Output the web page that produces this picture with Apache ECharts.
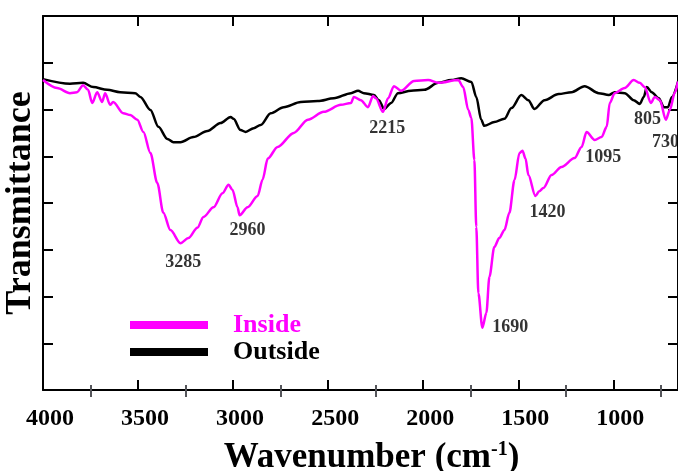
<!DOCTYPE html>
<html>
<head>
<meta charset="utf-8">
<script src="https://cdn.jsdelivr.net/npm/echarts@6/dist/echarts.min.js"></script>
<style>
  html, body { margin: 0; padding: 0; background: #fff; }
  #chart { width: 678px; height: 471px; }
</style>
</head>
<body>
<div id="chart"></div>
<script>
// FTIR spectra, [wavenumber, transmittance (arb.)]
const insidePts = [
  [4000, 6.63], [3926, 6.46], [3858, 6.35], [3821, 6.37], [3789, 6.52], [3763, 6.42],
  [3741, 6.14], [3715, 6.37], [3689, 6.16], [3673, 6.35], [3647, 6.10], [3631, 6.16],
  [3578, 5.92], [3541, 5.88], [3504, 5.78], [3472, 5.52], [3435, 5.07], [3399, 4.43],
  [3367, 3.79], [3330, 3.42], [3277, 3.14], [3235, 3.25], [3188, 3.47], [3156, 3.70],
  [3103, 3.91], [3056, 4.21], [3024, 4.39], [3003, 4.28], [2977, 3.91], [2966, 3.74],
  [2924, 3.91], [2871, 4.15], [2845, 4.50], [2818, 4.95], [2766, 5.20], [2681, 5.50],
  [2607, 5.78], [2523, 5.95], [2433, 6.10], [2380, 6.14], [2365, 6.27], [2328, 6.20],
  [2291, 6.05], [2264, 6.29], [2249, 6.24], [2212, 5.95], [2185, 6.24], [2154, 6.50],
  [2117, 6.40], [2048, 6.61], [1974, 6.63], [1921, 6.57], [1816, 6.63], [1790, 6.48],
  [1763, 5.99], [1747, 5.82], [1731, 4.92], [1721, 3.49], [1710, 2.07], [1689, 1.33],
  [1668, 1.65], [1652, 2.42], [1626, 3.06], [1600, 3.25], [1573, 3.42], [1547, 3.79],
  [1520, 4.49], [1494, 5.07], [1478, 5.12], [1462, 4.95], [1447, 4.60], [1410, 4.15],
  [1390, 4.25], [1368, 4.32], [1325, 4.60], [1273, 4.77], [1204, 4.96], [1167, 5.20],
  [1141, 5.52], [1098, 5.35], [1062, 5.41], [1035, 5.63], [1019, 6.14], [993, 6.35],
  [940, 6.46], [893, 6.63], [861, 6.57], [835, 6.48], [803, 6.14], [782, 6.27],
  [755, 6.20], [724, 5.78], [703, 5.99], [676, 6.37], [660, 6.60]
]
const outsidePts = [
  [4000, 6.65], [3858, 6.55], [3789, 6.57], [3736, 6.48], [3662, 6.42], [3594, 6.37],
  [3515, 6.35], [3488, 6.27], [3435, 5.99], [3393, 5.63], [3346, 5.37], [3314, 5.30],
  [3277, 5.30], [3209, 5.41], [3135, 5.54], [3066, 5.71], [3013, 5.84], [2998, 5.80],
  [2961, 5.56], [2934, 5.52], [2892, 5.60], [2855, 5.67], [2802, 5.92], [2734, 6.05],
  [2644, 6.16], [2555, 6.18], [2470, 6.24], [2380, 6.35], [2343, 6.40], [2312, 6.35],
  [2259, 6.31], [2233, 6.20], [2206, 6.01], [2169, 6.14], [2133, 6.35], [2064, 6.40],
  [1995, 6.42], [1921, 6.57], [1853, 6.63], [1800, 6.67], [1747, 6.59], [1721, 6.27],
  [1695, 5.78], [1679, 5.65], [1626, 5.73], [1573, 5.80], [1536, 6.03], [1484, 6.31],
  [1447, 6.20], [1415, 6.01], [1362, 6.20], [1288, 6.33], [1220, 6.37], [1151, 6.50],
  [1077, 6.35], [1024, 6.31], [993, 6.37], [940, 6.35], [893, 6.20], [861, 6.12],
  [840, 6.27], [824, 6.48], [798, 6.37], [761, 6.24], [734, 6.05], [713, 6.05],
  [692, 6.27], [660, 6.59]
]
// peak labels: text and where it sits (data units)
const peakLabels = ['3285', '2960', '2215', '1690', '1420', '1095', '805', '730']
const peakAnchors = [
  [3262, 2.72], [2925, 3.42], [2189, 5.60], [1542, 1.35],
  [1347, 3.81], [1053, 4.98], [821, 5.78], [726, 5.30]
]
const majorTicks = [1000, 1500, 2000, 2500, 3000, 3500, 4000]
const minorTicks = [750, 1250, 1750, 2250, 2750, 3250, 3750]

const serif = "'Liberation Serif', 'Times New Roman', serif"

function xAx(pos, opts) {
  return Object.assign({
    type: 'value',
    position: pos,
    min: 660,
    max: 4000,
    inverse: true,
    axisLine: { show: true, onZero: false, lineStyle: { color: '#000', width: 2 } },
    axisTick: { show: false },
    axisLabel: { show: false },
    splitLine: { show: false }
  }, opts)
}
function yAx(pos, opts) {
  return Object.assign({
    type: 'value',
    position: pos,
    min: 0,
    max: 8,
    interval: 1,
    axisLine: { show: true, lineStyle: { color: '#000', width: 2 } },
    axisTick: { show: true, inside: true, length: 10, lineStyle: { width: 2 } },
    axisLabel: { show: false },
    splitLine: { show: false }
  }, opts)
}

const chart = echarts.init(document.getElementById('chart'))
chart.setOption({
  animation: false,
  backgroundColor: '#fff',
  grid: { left: 43, right: 0, top: 16, bottom: 81, containLabel: false, outerBoundsMode: 'none' },
  legend: {
    left: 130,
    top: 312,
    padding: 0,
    orient: 'vertical',
    itemWidth: 78,
    itemHeight: 8,
    itemGap: 1,
    icon: 'rect',
    textStyle: { fontFamily: serif, fontSize: 26, fontWeight: 'bold', padding: [0, 0, 0, 20] },
    data: [
      { name: 'Inside', textStyle: { color: '#ff00ff' } },
      { name: 'Outside', textStyle: { color: '#000' } }
    ]
  },
  xAxis: [
    xAx('bottom', {
      axisTick: { show: true, inside: true, length: 10, customValues: majorTicks, lineStyle: { width: 2 } },
      axisLabel: {
        show: true, customValues: majorTicks, margin: 17,
        padding: [0, 0, 0, 14],
        formatter: v => String(v),
        fontFamily: serif, fontSize: 24, fontWeight: 'bold', color: '#000'
      },
      name: '{t|Wavenumber (cm}{s|-1}{t|)}',
      nameLocation: 'middle',
      nameGap: 50,
      nameTextStyle: {
        padding: [0, 0, 0, 22],
        rich: {
          t: { fontFamily: serif, fontSize: 35, fontWeight: 'bold', color: '#000' },
          s: { fontFamily: serif, fontSize: 20, fontWeight: 'bold', color: '#000', verticalAlign: 'top' }
        }
      }
    }),
    xAx('bottom', {
      axisLine: { show: false },
      axisTick: { show: true, inside: true, length: 5, customValues: minorTicks, lineStyle: { width: 2 } }
    }),
    xAx('top', {
      axisTick: { show: true, inside: true, length: 10, customValues: majorTicks, lineStyle: { width: 2 } }
    }),
    xAx('top', {
      axisLine: { show: false },
      axisTick: { show: true, inside: true, length: 7, customValues: minorTicks, lineStyle: { width: 2 } }
    })
  ],
  yAxis: [
    yAx('left', {
      name: 'Transmittance',
      nameLocation: 'middle',
      nameGap: 4,
      nameTextStyle: { fontFamily: serif, fontSize: 36, fontWeight: 'bold', color: '#000' }
    }),
    yAx('right')
  ],
  series: [
    {
      name: 'Inside',
      type: 'line',
      data: insidePts,
      showSymbol: false,
      smooth: 0.3,
      smoothMonotone: 'x',
      z: 3,
      color: '#ff00ff',
      lineStyle: { width: 2.5, color: '#ff00ff' }
    },
    {
      name: 'Outside',
      type: 'line',
      data: outsidePts,
      showSymbol: false,
      smooth: 0.3,
      smoothMonotone: 'x',
      z: 2,
      color: '#000',
      lineStyle: { width: 2.5, color: '#000' }
    },
    {
      type: 'scatter',
      symbolSize: 0,
      silent: true,
      data: peakAnchors.map((p, i) => ({ value: p, name: peakLabels[i] })),
      label: {
        show: true,
        position: 'inside',
        formatter: '{b}',
        fontFamily: serif,
        fontSize: 18,
        fontWeight: 'bold',
        color: '#000'
      }
    }
  ]
})
</script>
</body>
</html>
